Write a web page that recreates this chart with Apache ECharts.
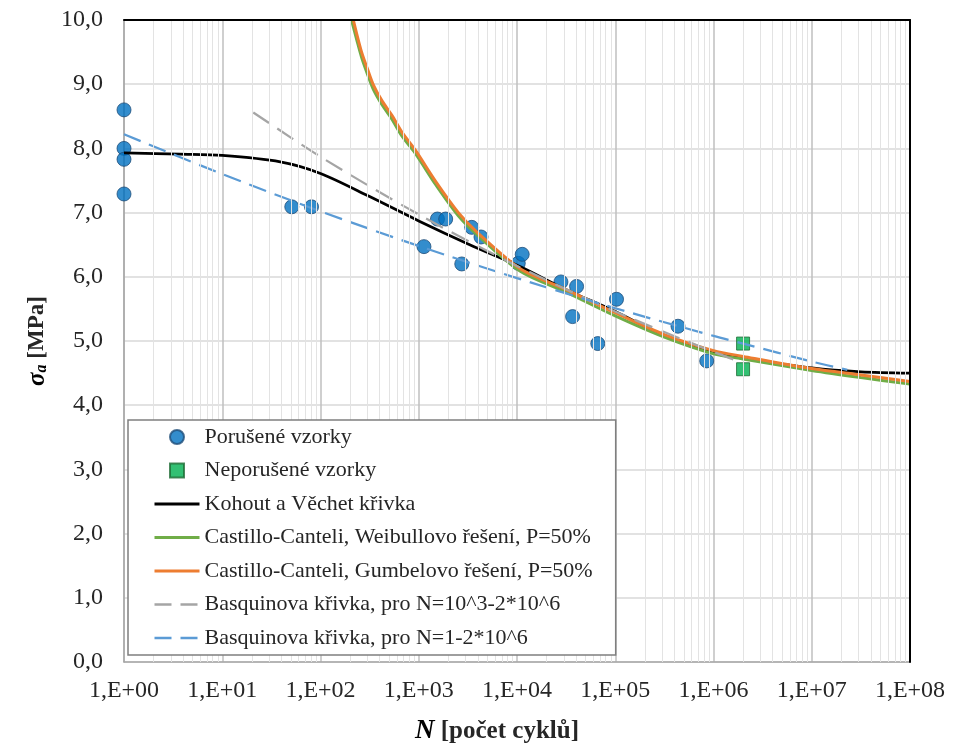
<!DOCTYPE html>
<html>
<head>
<meta charset="utf-8">
<script src="https://cdn.jsdelivr.net/npm/echarts@6/dist/echarts.min.js"></script>
<style>
html,body{margin:0;padding:0;background:#fff;}
#c{width:964px;height:754px;}
</style>
</head>
<body>
<div id="c"></div>
<script>
// ---- data ----
var failedN = [1, 1, 1, 1, 51, 81, 1130, 1550, 1880, 2740, 3460, 4300, 10300, 11300, 28000, 36800, 40400, 66400, 103000, 435000, 853000];
var failedS = [8.60, 8.00, 7.83, 7.29, 7.09, 7.09, 6.47, 6.90, 6.90, 6.20, 6.77, 6.62, 6.21, 6.35, 5.92, 5.38, 5.85, 4.96, 5.65, 5.23, 4.69];

var runoutN = [2e6, 2e6];
var runoutS = [4.96, 4.56];

var kvN = [1, 3.7, 10, 39, 100, 316, 1000, 3300, 10700, 31600, 1e5, 3.16e5, 1e6, 2e6, 1e7, 3.16e7, 1e8];
var kvS = [7.93, 7.91, 7.89, 7.79, 7.61, 7.25, 6.87, 6.50, 6.16, 5.80, 5.46, 5.08, 4.81, 4.73, 4.58, 4.52, 4.50];

var ccwN = [207, 235, 262, 297, 345, 423, 531, 676, 916, 1496, 2529, 3890, 10700, 31600, 1e5, 3.16e5, 1e6, 2e6, 1e7, 3.16e7, 1e8];
var ccwS = [10.0, 9.68, 9.42, 9.18, 8.92, 8.68, 8.46, 8.19, 7.93, 7.43, 6.95, 6.66, 6.09, 5.76, 5.39, 5.06, 4.80, 4.72, 4.54, 4.43, 4.33];

var ccgN = [216, 235, 262, 297, 345, 423, 531, 676, 916, 1496, 2529, 3890, 10700, 31600, 1e5, 3.16e5, 1e6, 2e6, 1e7, 3.16e7, 1e8];
var ccgS = [10.0, 9.77, 9.50, 9.26, 8.99, 8.74, 8.52, 8.25, 7.98, 7.48, 7.00, 6.70, 6.13, 5.80, 5.44, 5.10, 4.85, 4.76, 4.57, 4.47, 4.37];

var basq3N = [20.7, 100, 1000, 1e4, 1e5, 1e6, 2e6];
var basq3S = [8.56, 7.87, 6.97, 6.17, 5.46, 4.83, 4.66];

var basq1N = [1, 10, 100, 1000, 1e4, 1e5, 1e6, 2e6, 1e7, 2.3e7];
var basq1S = [8.22, 7.60, 7.02, 6.48, 5.98, 5.51, 5.08, 4.96, 4.68, 4.55];

var names = [
  'Porušené vzorky',
  'Neporušené vzorky',
  'Kohout a Věchet křivka',
  'Castillo-Canteli, Weibullovo řešení, P=50%',
  'Castillo-Canteli, Gumbelovo řešení, P=50%',
  'Basquinova křivka, pro N=10^3-2*10^6',
  'Basquinova křivka, pro N=1-2*10^6'
];

function pairs(xs, ys) { return xs.map(function (x, i) { return [x, ys[i]]; }); }

// minor vertical grid positions (2..9 x 10^k)
var minorLines = [];
for (var k = 0; k < 8; k++) {
  for (var m = 2; m <= 9; m++) minorLines.push({ xAxis: m * Math.pow(10, k) });
}

var FONT = '"Liberation Serif", "DejaVu Serif", serif';
var HIDE = { opacity: 0, color: 'rgba(0,0,0,0)', borderWidth: 0 };

var chart = echarts.init(document.getElementById('c'), null, { renderer: 'canvas' });

var lineBase = { type: 'line', showSymbol: false, symbol: 'none', smooth: 0.3, clip: true, silent: true };

chart.setOption({
  animation: false,
  backgroundColor: '#ffffff',
  textStyle: { fontFamily: FONT },
  grid: { left: 124, top: 20, right: 54, bottom: 92 },
  xAxis: [{
    type: 'log', logBase: 10, min: 1, max: 1e8, splitNumber: 8,
    axisLine: { show: true, lineStyle: { color: '#a6a6a6', width: 1.5 } },
    axisTick: { show: false },
    axisLabel: {
      fontFamily: FONT, fontSize: 24, color: '#262626', margin: 17,
      formatter: function (v) {
        var e = Math.round(Math.log10(v));
        return '1,E+' + (e < 10 ? '0' : '') + e;
      }
    },
    splitLine: { show: true, lineStyle: { color: '#bfbfbf', width: 1.5 } },
    name: '{n|N}{t| [počet cyklů]}',
    nameLocation: 'middle', nameGap: 56,
    nameTextStyle: {
      rich: {
        n: { fontFamily: FONT, fontSize: 27, fontWeight: 'bold', fontStyle: 'italic', color: '#000' },
        t: { fontFamily: FONT, fontSize: 25, fontWeight: 'bold', color: '#262626' }
      },
      padding: [0, 40, 0, 0]
    }
  }, {
    type: 'log', logBase: 10, min: 1, max: 1e8, position: 'top', z: 5,
    axisLine: { show: true, onZero: false, lineStyle: { color: '#000000', width: 2 } },
    axisTick: { show: false }, axisLabel: { show: false }, splitLine: { show: false }
  }],
  yAxis: [{
    type: 'value', min: 0, max: 10, interval: 1,
    axisLine: { show: true, lineStyle: { color: '#a6a6a6', width: 1.5 } },
    axisTick: { show: false },
    axisLabel: {
      fontFamily: FONT, fontSize: 24, color: '#262626', margin: 21,
      formatter: function (v) { return v.toFixed(1).replace('.', ','); }
    },
    splitLine: { show: true, lineStyle: { color: '#d9d9d9', width: 1.5 } },
    name: '{s|σ}{a|a}{t| [MPa]}',
    nameLocation: 'middle', nameGap: 74, nameRotate: 90,
    nameTextStyle: {
      rich: {
        s: { fontFamily: FONT, fontSize: 25, fontWeight: 'bold', fontStyle: 'italic', color: '#000' },
        a: { fontFamily: FONT, fontSize: 16, fontWeight: 'bold', fontStyle: 'italic', color: '#000', verticalAlign: 'bottom', padding: [9, 0, 0, 0] },
        t: { fontFamily: FONT, fontSize: 23, fontWeight: 'bold', color: '#262626' }
      }
    }
  }, {
    type: 'value', min: 0, max: 10, interval: 1, position: 'right', z: 5,
    axisLine: { show: true, onZero: false, lineStyle: { color: '#000000', width: 2 } },
    axisTick: { show: false }, axisLabel: { show: false }, splitLine: { show: false }
  }],
  legend: {
    data: [
      { name: names[0], icon: 'circle' },
      { name: names[1], icon: 'path://M0,0L10,0L10,10L0,10Z' },
      { name: names[2], itemStyle: HIDE, lineStyle: { color: '#000000', width: 3, type: 'solid' } },
      { name: names[3], itemStyle: HIDE, lineStyle: { color: '#70ad47', width: 3, type: 'solid' } },
      { name: names[4], itemStyle: HIDE, lineStyle: { color: '#ed7d31', width: 3, type: 'solid' } },
      { name: names[5], itemStyle: HIDE, lineStyle: { color: '#a5a5a5', width: 2.5, type: [17, 9] } },
      { name: names[6], itemStyle: HIDE, lineStyle: { color: '#5b9bd5', width: 2.5, type: [17, 9] } }
    ],
    orient: 'vertical',
    left: 128, top: 420,
    padding: [6, 23, 6, 25],
    itemWidth: 45, itemHeight: 14, itemGap: 11.5,
    symbolKeepAspect: true,
    backgroundColor: '#ffffff',
    borderColor: '#7f7f7f', borderWidth: 1.5,
    textStyle: { fontFamily: FONT, fontSize: 22, lineHeight: 22, color: '#262626' },
    selectedMode: false,
    z: 10
  },
  series: [
    {
      name: 'minor-grid', type: 'line', data: [], z: 1, silent: true,
      markLine: {
        silent: true, symbol: 'none', animation: false,
        label: { show: false },
        lineStyle: { color: '#e3e3e3', width: 1, type: 'solid' },
        data: minorLines
      }
    },
    {
      name: names[0], type: 'scatter', data: pairs(failedN, failedS),
      symbol: 'circle', symbolSize: 14,
      itemStyle: { color: '#0070c0', borderColor: '#1f4e79', borderWidth: 1 }
    },
    {
      name: names[1], type: 'scatter', data: pairs(runoutN, runoutS),
      symbol: 'rect', symbolSize: 13,
      itemStyle: { color: '#00b050', borderColor: '#1e6b35', borderWidth: 1 }
    },
    Object.assign({}, lineBase, {
      name: names[2], data: pairs(kvN, kvS),
      itemStyle: { color: '#000000' },
      lineStyle: { color: '#000000', width: 2.75 }
    }),
    Object.assign({}, lineBase, {
      name: names[3], data: pairs(ccwN, ccwS),
      itemStyle: { color: '#70ad47' },
      lineStyle: { color: '#70ad47', width: 3 }
    }),
    Object.assign({}, lineBase, {
      name: names[4], data: pairs(ccgN, ccgS),
      itemStyle: { color: '#ed7d31' },
      lineStyle: { color: '#ed7d31', width: 3 }
    }),
    Object.assign({}, lineBase, {
      name: names[5], data: pairs(basq3N, basq3S),
      itemStyle: { color: '#a5a5a5' },
      lineStyle: { color: '#a5a5a5', width: 2.25, type: [19, 10] }
    }),
    Object.assign({}, lineBase, {
      name: names[6], data: pairs(basq1N, basq1S),
      itemStyle: { color: '#5b9bd5' },
      lineStyle: { color: '#5b9bd5', width: 2.25, type: [18, 9] }
    })
  ]
});
</script>
</body>
</html>
